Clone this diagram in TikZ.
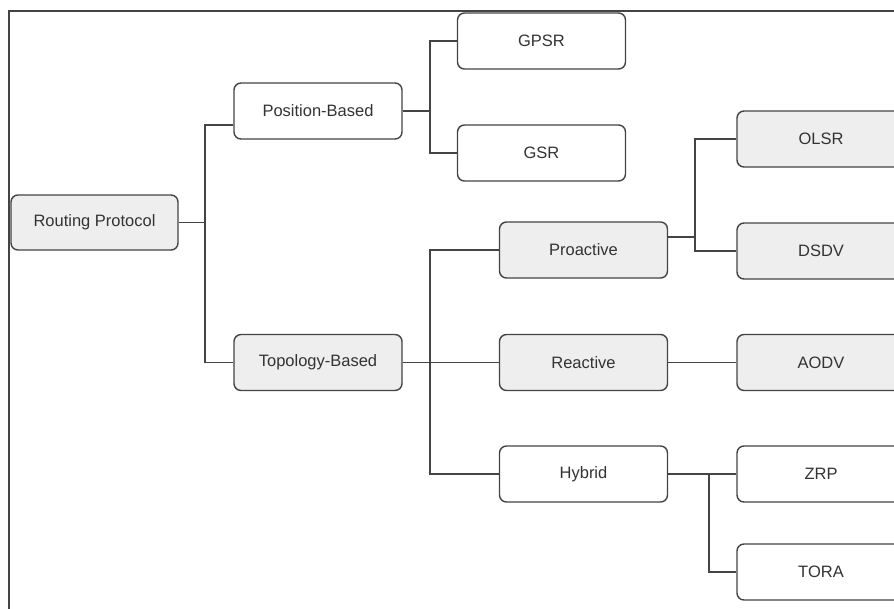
\documentclass[tikz,border=0pt]{standalone}
\usepackage{fontspec}
\setmainfont{Liberation Sans}
\definecolor{linec}{HTML}{444444}
\definecolor{boxfill}{HTML}{EEEEEE}
\definecolor{txtc}{HTML}{333333}
\begin{document}
\begin{tikzpicture}[x=1pt,y=1pt,
  box/.style={draw=linec, line width=1.4pt, rounded corners=7pt, minimum width=168pt, minimum height=56pt, inner sep=0pt, text=txtc, font=\fontsize{16.5}{20}\selectfont},
  wbox/.style={box, fill=white},
  gbox/.style={box, fill=boxfill},
  conn/.style={draw=linec, line width=1.4pt}]
\useasboundingbox (0,0) rectangle (894,-608);
\clip (0,0) rectangle (894,-608);
\fill[white] (0,0) rectangle (894,-608);
\draw[linec, line width=2pt] (9,-11) rectangle (920,-640);
% nodes
\node[gbox, minimum width=167pt, minimum height=55pt] (rp) at (94.5,-222.5) {Routing Protocol};
\node[wbox] (pb) at (318,-111) {Position-Based};
\node[gbox] (tb) at (318,-362.5) {Topology-Based};
\node[wbox] (gpsr) at (541.5,-41) {GPSR};
\node[wbox] (gsr) at (541.5,-153) {GSR};
\node[gbox] (pro) at (583.5,-250) {Proactive};
\node[gbox] (rea) at (583.5,-362.5) {Reactive};
\node[wbox] (hyb) at (583.5,-474) {Hybrid};
\node[gbox] (olsr) at (821,-139) {OLSR};
\node[gbox] (dsdv) at (821,-251) {DSDV};
\node[gbox] (aodv) at (821,-362.5) {AODV};
\node[wbox] (zrp) at (821,-474) {ZRP};
\node[wbox] (tora) at (821,-572) {TORA};
% junctions
\coordinate (j1) at (205,-222.5);
\coordinate (j2) at (430,-111);
\coordinate (j3) at (430,-362.5);
\coordinate (j4) at (695,-237);
\coordinate (j5) at (709,-474);
% connectors
\draw[conn] (rp.east) -- (j1);
\draw[conn] (j1) |- ([yshift=-14pt]pb.west);
\draw[conn] (j1) |- (tb.west);
\draw[conn] (pb.east) -- (j2);
\draw[conn] (j2) |- (gpsr.west);
\draw[conn] (j2) |- (gsr.west);
\draw[conn] (tb.east) -- (rea.west);
\draw[conn] (j3) |- (pro.west);
\draw[conn] (j3) |- (hyb.west);
\draw[conn] ([yshift=13pt]pro.east) -- (j4);
\draw[conn] (j4) |- (olsr.west);
\draw[conn] (j4) |- (dsdv.west);
\draw[conn] (rea.east) -- (aodv.west);
\draw[conn] (hyb.east) -- (zrp.west);
\draw[conn] (j5) |- (tora.west);
\end{tikzpicture}
\end{document}
